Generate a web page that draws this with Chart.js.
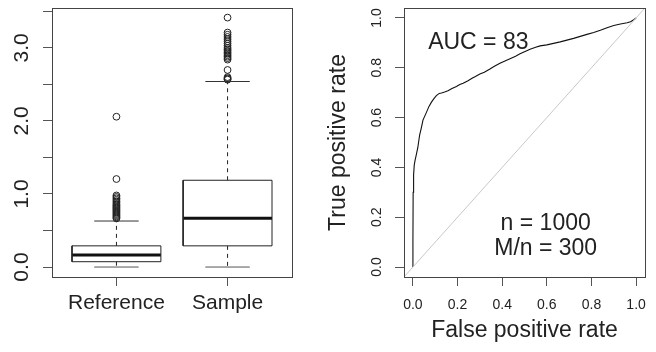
<!DOCTYPE html>
<html><head><meta charset="utf-8">
<script src="https://cdn.jsdelivr.net/npm/chart.js@4.4.1/dist/chart.umd.min.js"></script>
<style>
html,body{margin:0;padding:0;background:#fff;}
#wrap{position:relative;width:656px;height:352px;overflow:hidden;background:#fff;}
#c1{position:absolute;left:0;top:0;}
#c2{position:absolute;left:310px;top:0;}
</style></head><body>
<div id="wrap"><canvas id="c1" width="310" height="352"></canvas><canvas id="c2" width="346" height="352"></canvas></div>
<script>
// ---------------- data: left panel (boxplot) ----------------
const categories = ['Reference', 'Sample'];
const lowerWhisker = [0.0, 0.0];
const lowerQuartile = [0.073, 0.29];
const medians = [0.164, 0.667];
const upperQuartile = [0.29, 1.188];
const upperWhisker = [0.63, 2.54];
const outliersReference = [0.665, 0.68, 0.695, 0.71, 0.725, 0.74, 0.755, 0.77, 0.785, 0.80, 0.815, 0.83, 0.845, 0.86, 0.88, 0.90, 0.92, 0.94, 0.96, 0.98, 1.205, 2.058];
const outliersSample = [2.565, 2.575, 2.585, 2.60, 2.698, 2.84, 2.86, 2.88, 2.90, 2.92, 2.94, 2.96, 2.98, 3.00, 3.03, 3.06, 3.09, 3.12, 3.15, 3.18, 3.21, 3.415];
const boxYTicks = [0, 0.5, 1, 1.5, 2, 2.5, 3, 3.5];
const boxYTickLabels = ['0.0', '', '1.0', '', '2.0', '', '3.0', ''];

// ---------------- data: right panel (ROC) ----------------
const rocFPR = [0, 0, 0.001, 0.003, 0.006, 0.010, 0.015, 0.022, 0.030, 0.038, 0.045, 0.060, 0.072, 0.083, 0.095, 0.105, 0.118, 0.128, 0.142, 0.157, 0.175, 0.195, 0.210, 0.225, 0.247, 0.265, 0.280, 0.300, 0.320, 0.345, 0.365, 0.390, 0.410, 0.435, 0.460, 0.480, 0.500, 0.525, 0.550, 0.570, 0.600, 0.630, 0.660, 0.690, 0.720, 0.750, 0.780, 0.810, 0.840, 0.870, 0.900, 0.930, 0.960, 0.975, 0.990, 1.0];
const rocTPR = [0, 0.10, 0.30, 0.37, 0.41, 0.43, 0.45, 0.48, 0.53, 0.56, 0.59, 0.62, 0.645, 0.662, 0.677, 0.688, 0.697, 0.699, 0.703, 0.708, 0.717, 0.725, 0.733, 0.738, 0.748, 0.758, 0.765, 0.775, 0.782, 0.795, 0.806, 0.818, 0.826, 0.836, 0.846, 0.856, 0.864, 0.874, 0.882, 0.888, 0.892, 0.898, 0.904, 0.911, 0.918, 0.926, 0.934, 0.942, 0.951, 0.961, 0.970, 0.976, 0.981, 0.985, 0.993, 1.0];
const chanceLine = [-0.1, 1.1];
const rocTicks = [0, 0.2, 0.4, 0.6, 0.8, 1.0];
const rocTickLabels = ['0.0', '0.2', '0.4', '0.6', '0.8', '1.0'];
const rocTexts = ['AUC = 83', 'n = 1000', 'M/n = 300'];

// ---------------- layout / style (not data) ----------------
const rocTextAt = [{x: 0.293, y: 0.900}, {x: 0.595, y: 0.176}, {x: 0.595, y: 0.074}];
const FONT = "'Liberation Sans', Arial, Helvetica, sans-serif";
const INK = '#222';
const TICK = '#555';
const HALF_BOX = 0.4, HALF_CAP = 0.2;

function fixAxis(size) {
  return s => {
    if (s.isHorizontal()) s.height = size; else s.width = size;
    s.paddingLeft = 0; s.paddingRight = 0; s.paddingTop = 0; s.paddingBottom = 0;
  };
}
const framePlugin = {
  id: 'frame',
  afterDraw(chart) {
    const {ctx, chartArea: a} = chart;
    ctx.save();
    ctx.strokeStyle = '#444';
    ctx.lineWidth = 1;
    ctx.strokeRect(Math.round(a.left) + 0.5, Math.round(a.top) + 0.5, Math.round(a.right - a.left), Math.round(a.bottom - a.top));
    ctx.restore();
  }
};
const textPlugin = {
  id: 'rocText',
  afterDatasetsDraw(chart) {
    const {ctx, scales: {x, y}} = chart;
    ctx.save();
    ctx.fillStyle = INK;
    ctx.font = '23px ' + FONT;
    ctx.textAlign = 'center';
    ctx.textBaseline = 'middle';
    rocTexts.forEach((t, i) => ctx.fillText(t, x.getPixelForValue(rocTextAt[i].x), y.getPixelForValue(rocTextAt[i].y)));
    ctx.restore();
  }
};

// ---------------- left chart ----------------
const boxDatasets = [];
categories.forEach((c, i) => {
  const x = i + 1;
  const seg = (pts, extra) => Object.assign({label: c, data: pts, showLine: true, pointRadius: 0, borderColor: '#222', borderWidth: 1, fill: false}, extra || {});
  boxDatasets.push(seg([
    {x: x - HALF_BOX, y: lowerQuartile[i]}, {x: x + HALF_BOX, y: lowerQuartile[i]},
    {x: x + HALF_BOX, y: upperQuartile[i]}, {x: x - HALF_BOX, y: upperQuartile[i]},
    {x: x - HALF_BOX, y: lowerQuartile[i]}], {borderJoinStyle: 'miter'}));
  boxDatasets.push(seg([{x: x - HALF_BOX, y: medians[i]}, {x: x + HALF_BOX, y: medians[i]}], {borderWidth: 3, borderColor: '#111'}));
  boxDatasets.push(seg([{x: x, y: upperQuartile[i]}, {x: x, y: upperWhisker[i]}], {borderDash: [4, 4]}));
  boxDatasets.push(seg([{x: x, y: lowerQuartile[i]}, {x: x, y: lowerWhisker[i]}], {borderDash: [4, 4]}));
  boxDatasets.push(seg([{x: x - HALF_CAP, y: upperWhisker[i]}, {x: x + HALF_CAP, y: upperWhisker[i]}], {borderColor: '#333'}));
  boxDatasets.push(seg([{x: x - HALF_CAP, y: lowerWhisker[i]}, {x: x + HALF_CAP, y: lowerWhisker[i]}], {borderColor: '#555'}));
});
[outliersReference, outliersSample].forEach((arr, i) => {
  boxDatasets.push({
    label: categories[i] + ' outliers',
    data: arr.map(v => ({x: i + 1, y: v})),
    showLine: false, pointStyle: 'circle', pointRadius: 3.4,
    pointBorderColor: '#222', pointBackgroundColor: 'rgba(0,0,0,0)', pointBorderWidth: 1
  });
});

const yMin1 = -0.1364, yMax1 = 3.5464;
new Chart(document.getElementById('c1'), {
  type: 'scatter',
  data: {datasets: boxDatasets},
  plugins: [framePlugin],
  options: {
    responsive: false, animation: false, events: [],
    layout: {padding: {left: 0, right: 18, top: 8, bottom: 0}},
    plugins: {legend: {display: false}, tooltip: {enabled: false}},
    scales: {
      x: {
        type: 'linear', min: 0.42, max: 2.58,
        afterBuildTicks: s => { s.ticks = categories.map((_, i) => ({value: i + 1})); },
        ticks: {autoSkip: false, minRotation: 0, maxRotation: 0, padding: 4.8, color: INK,
          font: {family: FONT, size: 21}, callback: (v, i) => categories[i]},
        grid: {drawOnChartArea: false, drawTicks: true, tickLength: 9, color: TICK},
        border: {display: false},
        afterFit: fixAxis(75)
      },
      y: {
        type: 'linear', min: yMin1, max: yMax1,
        afterBuildTicks: s => { s.ticks = boxYTicks.map(v => ({value: v})); },
        ticks: {autoSkip: false, minRotation: 90, maxRotation: 90, crossAlign: 'center', padding: 5.9,
          color: INK, font: {family: FONT, size: 21}, callback: (v, i) => boxYTickLabels[i]},
        grid: {drawOnChartArea: false, drawTicks: true, tickLength: 9, color: TICK},
        border: {display: false},
        afterFit: fixAxis(52)
      }
    }
  }
});

// ---------------- right chart ----------------
new Chart(document.getElementById('c2'), {
  type: 'scatter',
  data: {datasets: [
    {label: 'chance', data: chanceLine.map(v => ({x: v, y: v})), showLine: true, pointRadius: 0, borderColor: '#c8c8c8', borderWidth: 1},
    {label: 'ROC', data: rocFPR.map((v, i) => ({x: v, y: rocTPR[i]})), showLine: true, pointRadius: 0, borderColor: '#111', borderWidth: 1.1, tension: 0}
  ]},
  plugins: [framePlugin, textPlugin],
  options: {
    responsive: false, animation: false, events: [],
    layout: {padding: {left: 0, right: 11, top: 8, bottom: 0}},
    plugins: {legend: {display: false}, tooltip: {enabled: false}},
    scales: {
      x: {
        type: 'linear', min: -0.04, max: 1.04,
        afterBuildTicks: s => { s.ticks = rocTicks.map(v => ({value: v})); },
        ticks: {autoSkip: false, minRotation: 0, maxRotation: 0, padding: 10.6, color: INK,
          font: {family: FONT, size: 14}, callback: (v, i) => rocTickLabels[i]},
        grid: {drawOnChartArea: false, drawTicks: true, tickLength: 9, color: TICK},
        border: {display: false},
        title: {display: true, text: 'False positive rate', color: INK,
          font: {family: FONT, size: 23, lineHeight: 1}, padding: {top: 0, bottom: 9.5}},
        afterFit: fixAxis(75)
      },
      y: {
        type: 'linear', min: -0.04, max: 1.04,
        afterBuildTicks: s => { s.ticks = rocTicks.map(v => ({value: v})); },
        ticks: {autoSkip: false, minRotation: 90, maxRotation: 90, crossAlign: 'center', padding: 8.3,
          color: INK, font: {family: FONT, size: 14}, callback: (v, i) => rocTickLabels[i]},
        grid: {drawOnChartArea: false, drawTicks: true, tickLength: 9, color: TICK},
        border: {display: false},
        title: {display: true, text: 'True positive rate', color: INK,
          font: {family: FONT, size: 23, lineHeight: 1}, padding: {top: 16.7, bottom: 0}},
        afterFit: fixAxis(94)
      }
    }
  }
});
</script>
</body></html>
